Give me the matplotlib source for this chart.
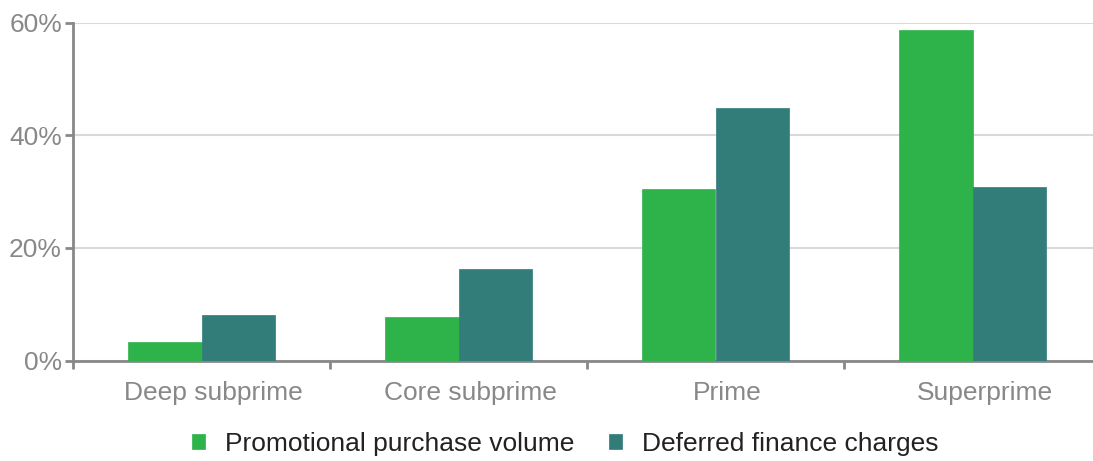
import numpy as np
import matplotlib.pyplot as plt
import matplotlib.transforms as mtransforms
from matplotlib.ticker import FixedLocator, PercentFormatter

# data
categories = ['Deep subprime', 'Core subprime', 'Prime', 'Superprime']
promo_volume = [3.2, 7.8, 30.4, 58.7]
deferred_charges = [8.0, 16.2, 44.8, 30.9]
series_names = ['Promotional purchase volume', 'Deferred finance charges']

green = '#2eb34b'
teal = '#327c7a'
axis_gray = '#888888'

plt.rcParams['font.family'] = ['Liberation Sans', 'DejaVu Sans']

W, H = 1093, 461
fig = plt.figure(figsize=(W / 100, H / 100), dpi=100)
ax = fig.add_axes([73 / W, (H - 360.5) / H, (1101 - 73) / W, (360.5 - 22.7) / H])

x = np.arange(len(categories))
bw = 0.285
ax.bar(x - bw / 2, promo_volume, bw, color=green, edgecolor=green, linewidth=0.5,
       label=series_names[0], zorder=3)
ax.bar(x + bw / 2, deferred_charges, bw, color=teal, edgecolor=teal, linewidth=0.5,
       label=series_names[1], zorder=3)

ax.set_xlim(-0.5, len(categories) - 0.5)
ax.set_ylim(0, 60)
ax.set_yticks([0, 20, 40, 60])
ax.yaxis.set_major_formatter(PercentFormatter(decimals=0))
ax.grid(axis='y', color='#d9d9d9', linewidth=1.5, zorder=0)

for s in ['top', 'right']:
    ax.spines[s].set_visible(False)
for s in ['left', 'bottom']:
    ax.spines[s].set_color(axis_gray)
    ax.spines[s].set_linewidth(2)

ax.set_xticks(x)
ax.set_xticklabels(categories)
ax.xaxis.set_minor_locator(FixedLocator(np.arange(len(categories)) - 0.5))
ax.tick_params(axis='x', which='major', length=0, pad=15, labelsize=19, labelcolor=axis_gray)
ax.tick_params(axis='x', which='minor', length=6, width=2, color=axis_gray)
ax.tick_params(axis='y', length=6, width=2, color=axis_gray, pad=2, labelsize=19, labelcolor=axis_gray)

# category labels sit a little right of the bar pair centre
shift = mtransforms.ScaledTranslation(12 / 100, 0, fig.dpi_scale_trans)
for lbl in ax.get_xticklabels():
    lbl.set_transform(lbl.get_transform() + shift)

fig.legend(loc='center', bbox_to_anchor=(565 / W, (H - 444) / H), ncol=2, frameon=False,
           fontsize=19, handlelength=0.5, handleheight=0.5, handletextpad=0.75,
           columnspacing=1.3, labelcolor='#222222')

fig.savefig('out.png', dpi=100)
